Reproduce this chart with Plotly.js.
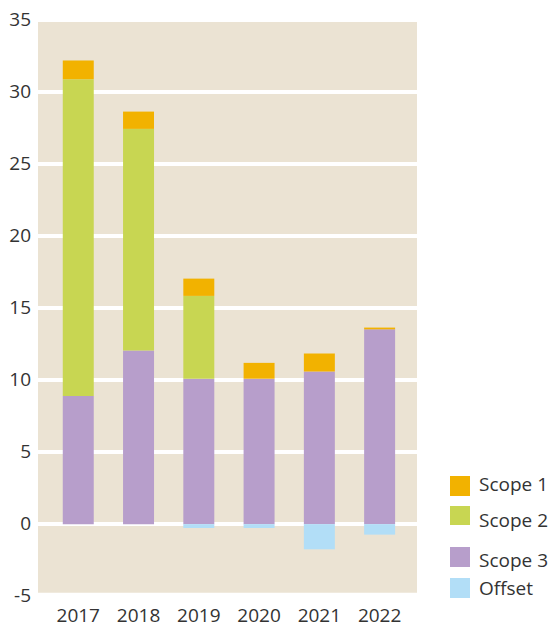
<!DOCTYPE html>
<html>
<head>
<meta charset="utf-8">
<script src="https://cdn.plot.ly/plotly-3.0.1.min.js"></script>
<style>html,body{margin:0;padding:0;background:#fff;}#chart{width:553px;height:627px;}</style>
</head>
<body>
<div id="chart"></div>
<script>
// ---- data ----
var years = ['2017', '2018', '2019', '2020', '2021', '2022'];
var scope3 = [8.9, 12.05, 10.1, 10.1, 10.6, 13.53];
var scope2 = [22.0, 15.4, 5.75, 0, 0, 0];
var scope1 = [1.3, 1.2, 1.2, 1.1, 1.25, 0.12];
var offset = [0, 0, -0.27, -0.27, -1.75, -0.73];
var seriesNames = ['Scope 1', 'Scope 2', 'Scope 3', 'Offset'];
var yTicks = [-5, 0, 5, 10, 15, 20, 25, 30, 35];

// ---- styles ----
var colors = {
  'Scope 1': '#F2B200',
  'Scope 2': '#C8D652',
  'Scope 3': '#B79ECB',
  'Offset': '#B2DEF7'
};
var font = {family: '"Open Sans", "Noto Sans", sans-serif', size: 19, color: '#333333'};
var barWidth = 0.514;

function bar(name, vals) {
  return {
    type: 'bar', name: name, x: years, y: vals, width: barWidth,
    marker: {color: colors[name], line: {width: 0}},
    showlegend: false, hoverinfo: 'skip'
  };
}

var traces = [
  bar('Scope 3', scope3),
  bar('Scope 2', scope2),
  bar('Scope 1', scope1),
  bar('Offset', offset)
];

// manual legend (large square swatches)
var legendPos = {
  'Scope 1': {top: 476, bottom: 496, text: 484},
  'Scope 2': {top: 506, bottom: 525, text: 520},
  'Scope 3': {top: 547, bottom: 567, text: 560},
  'Offset':  {top: 578, bottom: 598, text: 587.5}
};
var mL = 38, mR = 136, mT = 18, mB = 28, W = 553, H = 627;
var pw = W - mL - mR, ph = H - mT - mB;
function px2paperX(p) { return (p - mL) / pw; }
function px2paperY(p) { return (H - mB - p) / ph; }

var shapes = [{
  type: 'rect', layer: 'below', xref: 'paper', yref: 'y',
  x0: 0, x1: 1, y0: -4.76, y1: 34.94,
  fillcolor: '#EBE3D3', line: {width: 0}
}];
var annotations = [];
seriesNames.forEach(function (n) {
  var p = legendPos[n];
  shapes.push({
    type: 'rect', xref: 'paper', yref: 'paper',
    x0: px2paperX(450), x1: px2paperX(470),
    y0: px2paperY(p.bottom), y1: px2paperY(p.top),
    fillcolor: colors[n], line: {width: 0}
  });
  annotations.push({
    xref: 'paper', yref: 'paper', x: px2paperX(477), y: px2paperY(p.text),
    xanchor: 'left', yanchor: 'middle', text: n, showarrow: false, font: font
  });
});

var layout = {
  width: W, height: H,
  margin: {l: mL, r: mR, t: mT, b: mB, pad: 0},
  paper_bgcolor: '#ffffff', plot_bgcolor: '#ffffff',
  barmode: 'relative',
  font: font,
  showlegend: false,
  xaxis: {
    type: 'category', range: [-0.668, 5.62], showgrid: false, zeroline: false,
    showline: false, ticks: '', tickfont: font, fixedrange: true,
    ticklabelstandoff: 3
  },
  yaxis: {
    range: [-5.2, 35.15], tickvals: yTicks, ticktext: yTicks.map(String),
    showgrid: true, gridcolor: '#ffffff', gridwidth: 4,
    zeroline: true, zerolinecolor: '#ffffff', zerolinewidth: 4,
    showline: false, ticks: '', tickfont: font, fixedrange: true,
    ticklabelstandoff: 6, ticklabelshift: -1
  },
  shapes: shapes,
  annotations: annotations
};

Plotly.newPlot('chart', traces, layout, {displayModeBar: false, staticPlot: true});
</script>
</body>
</html>
